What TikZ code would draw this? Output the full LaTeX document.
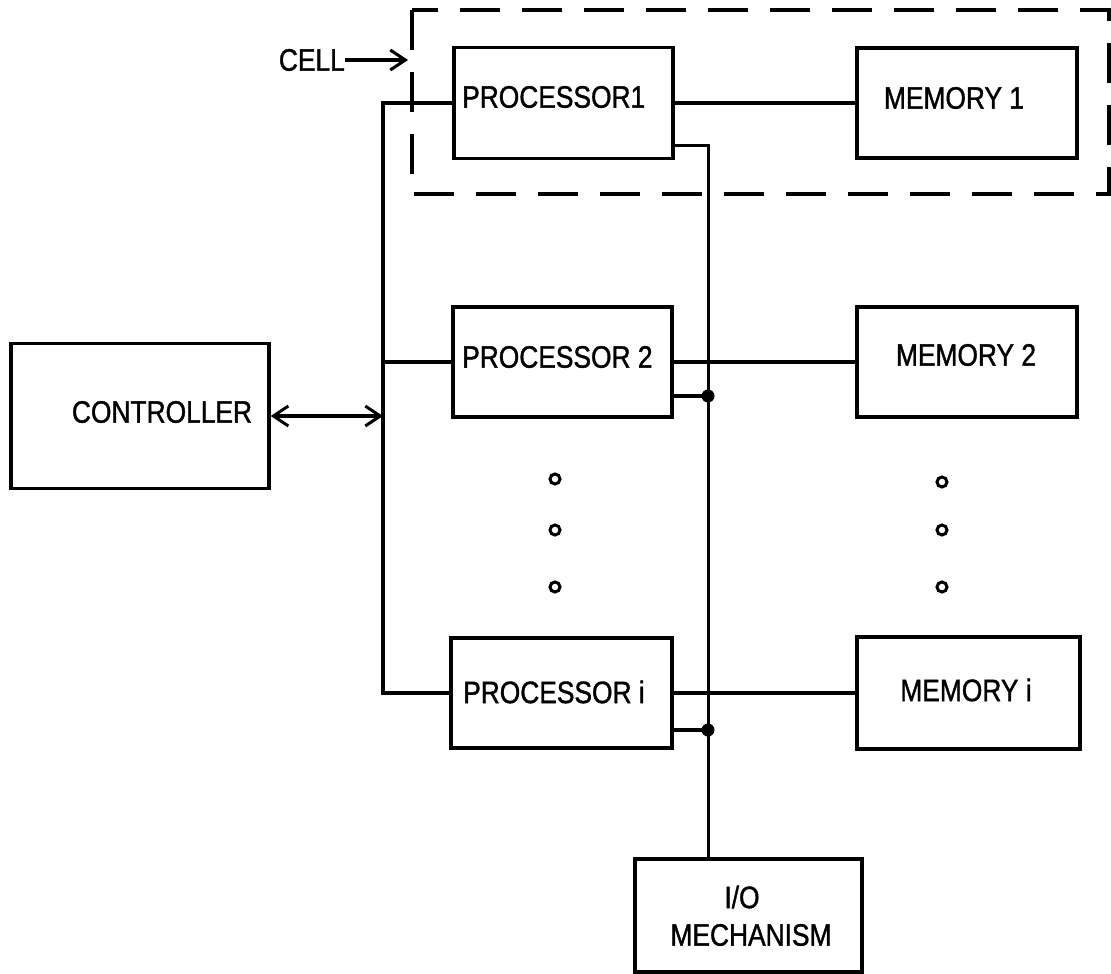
\documentclass[tikz,border=0pt]{standalone}
\usepackage{fontspec}
\setmainfont[FakeStretch=0.85,FakeBold=1.2]{Liberation Sans}
\usetikzlibrary{arrows.meta}
\begin{document}
\begin{tikzpicture}[x=1pt,y=-1pt,
  box/.style={draw,line width=3.4pt,minimum width=#1,inner sep=0pt},
  lbl/.style={font=\fontsize{31}{36}\selectfont,inner sep=0pt},
  wire/.style={line width=3.4pt},
  iowire/.style={line width=3pt},
  cellbox/.style={line width=3.4pt,dash pattern=on 40pt off 22pt},
  tip/.style={-{Straight Barb[length=15pt,width=20pt,line width=3pt]}},
  tips/.style={{Straight Barb[length=15pt,width=20pt,line width=3pt]}-{Straight Barb[length=15pt,width=20pt,line width=3pt]}},
  ell/.style={line width=3pt}]
\useasboundingbox (0,0) rectangle (1111,974);
% boxes
\node[box=258pt,minimum height=145pt] (ctrl) at (140,416) {};
\node[box=219pt,minimum height=111pt] (p1) at (563.5,103) {};
\node[box=220pt,minimum height=110pt] (m1) at (967,103) {};
\node[box=219pt,minimum height=110pt] (p2) at (562.5,362) {};
\node[box=220pt,minimum height=110pt] (m2) at (967,362) {};
\node[box=221pt,minimum height=110pt] (pi) at (561.5,693) {};
\node[box=223pt,minimum height=112pt] (mi) at (968.5,693) {};
\node[box=227pt,minimum height=113pt] (io) at (748.5,915.5) {};
% labels
\node[lbl] (tctrl) at (162,412) {CONTROLLER};
\node[lbl,anchor=west] (tp1) at (462,97) {PROCESSOR1};
\node[lbl,anchor=west] (tp2) at (462,357) {PROCESSOR 2};
\node[lbl,anchor=west] (tpi) at (463,692) {PROCESSOR i};
\node[lbl] (tm1) at (954,98) {MEMORY 1};
\node[lbl] (tm2) at (966,355) {MEMORY 2};
\node[lbl] (tmi) at (966,690) {MEMORY i};
\node[lbl] (tio1) at (742,897) {I/O};
\node[lbl] (tio2) at (751,935) {MECHANISM};
\node[lbl,anchor=east] (cell) at (345,60) {CELL};
% cell boundary
\draw[cellbox] (412,10) rectangle (1109,194);
\coordinate (ca) at (408,60);
\draw[wire,tip] (cell.east) -- (ca);
% bus
\coordinate (bt) at (383,103);
\draw[wire] (p1.west) -- (bt) -- (bt |- pi.west) -- (pi.west);
\draw[wire] (p2.west) -- (bt |- p2.west);
\draw[wire,tips] (ctrl.east) -- (bt |- ctrl.east);
% processor-memory
\draw[wire] (p1.east) -- (m1.west);
\draw[wire] (p2.east) -- (m2.west);
\draw[wire] (pi.east) -- (mi.west);
% I/O line
\coordinate (t1) at (708,145);
\coordinate (j2) at (708,396);
\coordinate (ji) at (708,730);
\draw[iowire] (p1.east |- t1) -- (t1) -- (t1 |- io.north);
\draw[wire] (p2.east |- j2) -- (j2);
\draw[wire] (pi.east |- ji) -- (ji);
\fill (j2) circle (6.5);
\fill (ji) circle (6.5);
% ellipsis dots
\foreach \y in {479,530,587} \draw[ell] (555,\y) circle (5);
\foreach \y in {482,530,587} \draw[ell] (942,\y) circle (5);
\end{tikzpicture}
\end{document}
